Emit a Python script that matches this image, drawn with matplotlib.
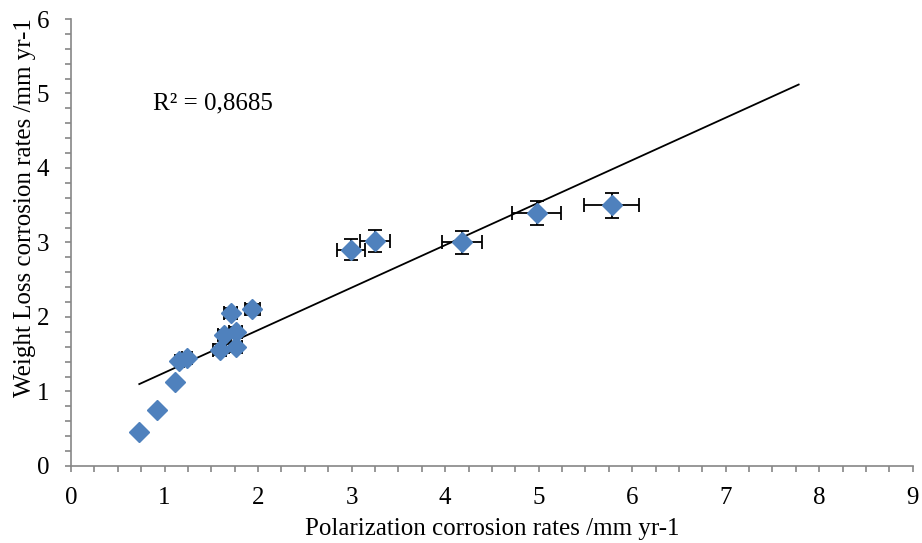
import numpy as np
import matplotlib.pyplot as plt
from matplotlib.ticker import MultipleLocator

plt.rcParams['font.family'] = ['Liberation Serif', 'DejaVu Serif']

# polarization rate (x), weight loss rate (y) and their errors
pol_rate = [0.73, 0.92, 1.11, 1.16, 1.24, 1.59, 1.64, 1.71, 1.76, 1.76, 1.94,
            2.99, 3.25, 4.18, 4.98, 5.78]
wl_rate = [0.45, 0.75, 1.12, 1.41, 1.45, 1.56, 1.76, 2.05, 1.80, 1.60, 2.10,
           2.90, 3.02, 3.00, 3.40, 3.50]
pol_err = [0.0, 0.0, 0.0, 0.05, 0.05, 0.07, 0.07, 0.07, 0.07, 0.07, 0.08,
           0.15, 0.165, 0.21, 0.26, 0.29]
wl_err = [0.0, 0.0, 0.0, 0.03, 0.03, 0.07, 0.07, 0.07, 0.07, 0.07, 0.07,
          0.14, 0.145, 0.15, 0.16, 0.17]
r2_label = "R² = 0,8685"

fig = plt.figure(figsize=(9.22, 5.43), dpi=100)
ax = fig.add_axes([0.077, 0.142, 0.913, 0.823])

ax.errorbar(pol_rate, wl_rate, xerr=pol_err, yerr=wl_err, fmt='D',
            color='#4F81BD', ms=9.8, ecolor='black', elinewidth=1.3,
            capsize=5, capthick=1.3, zorder=3)

# linear trendline, forecast forward 2 units like the spreadsheet
k, b = np.polyfit(pol_rate, wl_rate, 1)
xt = np.array([min(pol_rate), max(pol_rate) + 2])
ax.plot(xt, k * xt + b, color='black', lw=1.3, zorder=2)
ax.text(0.098, 0.812, r2_label, transform=ax.transAxes, fontsize=18,
        va='center')

ax.set_xlim(0, 9)
ax.set_ylim(0, 6)
ax.xaxis.set_major_locator(MultipleLocator(1))
ax.xaxis.set_minor_locator(MultipleLocator(0.25))
ax.yaxis.set_major_locator(MultipleLocator(1))
ax.yaxis.set_minor_locator(MultipleLocator(0.2))

for s in ['top', 'right']:
    ax.spines[s].set_visible(False)
for s in ['left', 'bottom']:
    ax.spines[s].set_color('#868686')
    ax.spines[s].set_linewidth(1.2)
ax.tick_params(which='both', color='#868686', width=1.2, labelsize=18)
ax.tick_params(axis='x', which='major', length=4.5, pad=11)
ax.tick_params(axis='y', which='major', length=4.5, pad=11)
ax.tick_params(which='minor', length=4)

ax.set_xlabel('Polarization corrosion rates /mm yr-1', fontsize=18, labelpad=6)
ax.set_ylabel('Weight Loss corrosion rates /mm yr-1', fontsize=18)
ax.yaxis.set_label_coords(-0.041, 0.577)

fig.savefig('out.png', dpi=100)
